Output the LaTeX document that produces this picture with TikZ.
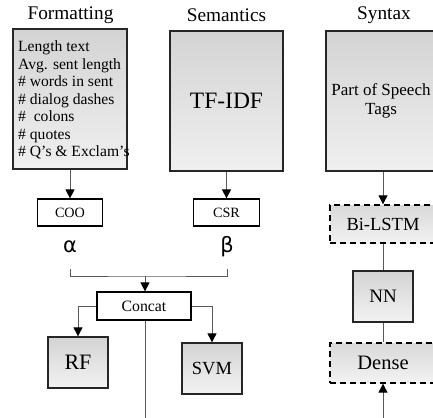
\documentclass[tikz,border=0pt]{standalone}
\usepackage{fontspec}
\setmainfont{Liberation Serif}
\newfontfamily\greekfont{DejaVu Sans}
\usetikzlibrary{arrows.meta}
\tikzset{
  bigbox/.style={draw=black!85, line width=1.6pt, top color=black!17, bottom color=black!6, minimum width=113pt, minimum height=140pt, inner sep=0pt},
  smallbox/.style={draw=black, line width=1.2pt, fill=white, inner sep=0pt, font=\fontsize{14.2}{16}\selectfont},
  modelbox/.style={draw=black!85, line width=1.3pt, top color=black!17, bottom color=black!5, minimum width=60pt, minimum height=51pt, inner sep=0pt, font=\fontsize{19}{21}\selectfont},
  dashbox/.style={draw=black, dashed, dash pattern=on 6pt off 4pt, line width=1.3pt, top color=black!15, bottom color=black!5, minimum width=106pt, inner sep=0pt, font=\fontsize{19}{21}\selectfont},
  title/.style={font=\fontsize{19.3}{21}\selectfont, inner sep=0pt},
  conn/.style={draw=black!65, line width=0.9pt},
  arr/.style={conn, -{Triangle[width=9pt,length=9pt,color=black,fill=black]}},
}
\begin{document}
\begin{tikzpicture}[x=1pt,y=-1pt]
\useasboundingbox (0,0) rectangle (433,417);
\clip (0,0) rectangle (433,417);
% titles
\node[title] (tf) at (70.5,15) {Formatting};
\node[title] (ts) at (226.5,15) {Semantics};
\node[title] (ty) at (384,15) {Syntax};
% big boxes
\node[bigbox, minimum width=114pt] (fmt) at (70,99) {};
\node[anchor=north west, inner sep=0pt, align=left, font=\fontsize{15.6}{17.5}\selectfont] (fmtt) at (18,40.5)
 {Length text\\Avg. sent length\\\# words in sent\\\# dialog dashes\\\#\ \ colons\\\# quotes\\\# Q’s \& Exclam’s};
\node[bigbox, font=\fontsize{23.5}{26}\selectfont] (sem) at (226.5,101) {TF-IDF};
\node[bigbox, minimum width=110pt, align=center, font=\fontsize{17}{18.5}\selectfont] (syn) at (381,101) {Part of Speech\\Tags};
% small boxes
\node[smallbox, minimum width=65pt, minimum height=27pt] (coo) at (70,212.5) {COO};
\node[smallbox, minimum width=66pt, minimum height=27pt] (csr) at (226.5,212.5) {CSR};
\node[inner sep=0pt, font=\greekfont\fontsize{21}{24}\selectfont] (al) at (70,247) {α};
\node[inner sep=0pt, font=\greekfont\fontsize{21}{24}\selectfont] (be) at (227,247) {β};
\coordinate (b1) at (70,269);
\coordinate (b2) at (227,269);
\coordinate (bm) at (145,276);
\node[smallbox, minimum width=94pt, minimum height=28pt, font=\fontsize{15.8}{18}\selectfont] (concat) at (144,306) {Concat};
\node[modelbox, font=\fontsize{22}{24}\selectfont] (rf) at (78,362.5) {RF};
\node[modelbox, font=\fontsize{18.5}{20}\selectfont] (svm) at (212,368.5) {SVM};
\coordinate (cbot) at (145,420);
% syntax column
\node[dashbox, minimum height=38pt, font=\fontsize{18.5}{20}\selectfont] (lstm) at (383,224) {Bi-LSTM};
\node[modelbox] (nn) at (383,296.5) {NN};
\node[dashbox, minimum height=40pt, font=\fontsize{20.5}{22}\selectfont] (dense) at (383,363) {Dense};
\coordinate (dbot) at (383,420);
% connectors
\draw[arr] (fmt.south -| coo.north) -- (coo.north);
\draw[arr] (sem.south -| csr.north) -- (csr.north);
\draw[arr] (syn.south -| lstm.north) -- (lstm.north);
\draw[conn] (b1) |- (bm) -| (b2);
\draw[arr] (bm) -- (bm |- concat.north);
\draw[arr] (concat.west) -| (rf.north);
\draw[arr] (concat.east) -| (svm.north);
\draw[conn] (concat.south -| bm) -- (cbot);
\draw[conn] (lstm.south) -- (nn.north);
\draw[conn] (nn.south) -- (dense.north);
\draw[arr] (dbot) -- (dense.south);
\end{tikzpicture}
\end{document}
